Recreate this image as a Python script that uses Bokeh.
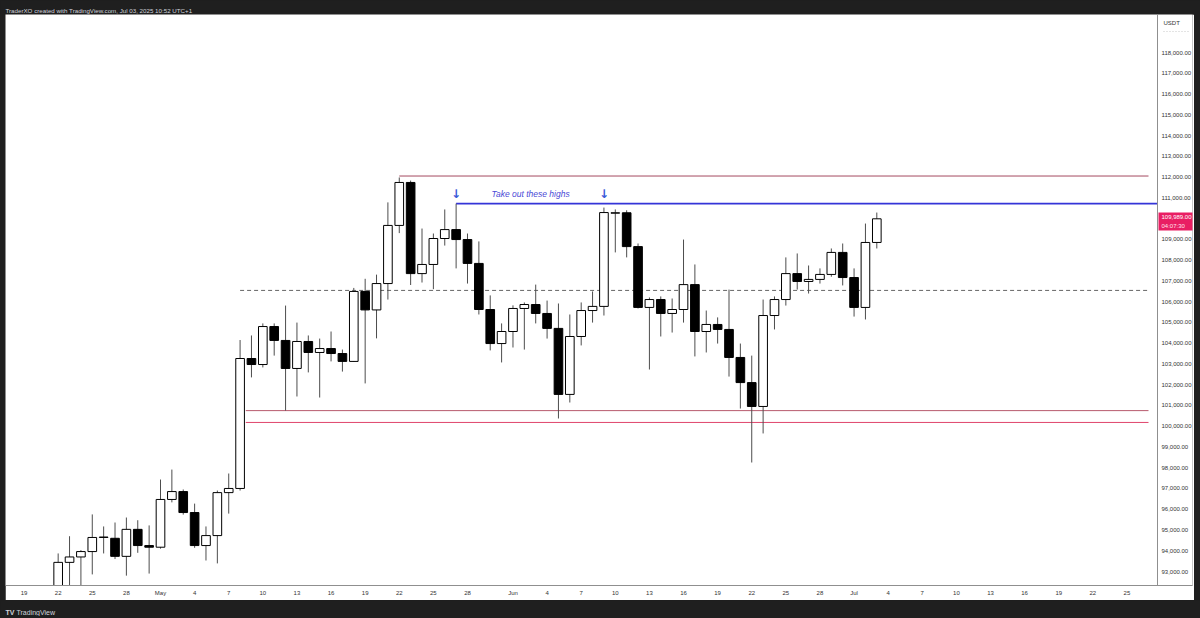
import pandas as pd
from bokeh.plotting import figure
from bokeh.layouts import column, row
from bokeh.models import (Range1d, FixedTicker, NumeralTickFormatter, Span,
                          ColumnDataSource, GlobalInlineStyleSheet, Spacer)
from bokeh.core.properties import value
from bokeh.embed import file_html
from bokeh.resources import INLINE

# ---------------- data ----------------
first_day = "2025-04-22"
last_day = "2025-07-03"
dates = pd.date_range(first_day, last_day, freq="D")

opens = [87520, 93440, 93700, 93960, 94640, 94600, 93730, 95030, 94250,
         94170, 96470, 96850, 95840, 94250, 94730, 96800, 97000, 103260, 102970, 104800,
         104130, 102780, 104080, 103550, 103740, 103500, 103120, 106490, 105600, 106870,
         109670, 111740, 107350, 107790, 109040, 109470, 108990, 107840, 105620, 103980,
         104560, 105670, 105860, 105430, 104710, 101530, 104320, 105570, 105770, 110260,
         110280, 108650, 105720, 106100, 105430, 105620, 106820, 104560, 104900, 104660,
         103310, 102100, 100950, 105330, 106100, 107350, 106970, 107070, 107310, 108370,
         107160, 105720, 108850]
highs = [93870, 94700, 94030, 95750, 95170, 95360, 95600, 95470, 95220,
         97430, 97910, 96950, 96270, 95170, 96900, 97720, 104150, 104370, 104950, 104950,
         105810, 104990, 104370, 104220, 104560, 103690, 106660, 107100, 107300, 110780,
         111980, 111830, 109520, 109280, 110440, 110720, 109280, 108900, 106300, 104950,
         105820, 105960, 106820, 106050, 105910, 105380, 105960, 106490, 110530, 110440,
         110400, 108800, 106200, 106250, 106150, 108990, 107790, 105570, 105240, 106580,
         103980, 103400, 106100, 106250, 108130, 108320, 107740, 107600, 108560, 108800,
         107600, 109760, 110290]
lows = [87070, 91900, 91660, 92860, 93870, 93600, 92800, 93900, 92900,
        94100, 96330, 95740, 94140, 93530, 93390, 95790, 96900, 102350, 102830, 103400,
        100750, 101430, 102590, 101380, 103120, 102630, 103100, 102060, 104230, 106100,
        109300, 106800, 106920, 106600, 108700, 107600, 106870, 105380, 103650, 103070,
        103790, 103690, 104950, 104220, 100370, 101140, 103890, 104990, 105330, 108370,
        108130, 105670, 102730, 104320, 104510, 104990, 103360, 103550, 103980, 102390,
        100850, 98250, 99650, 104660, 105810, 106580, 106390, 106870, 107200, 106780,
        105280, 105140, 108560]
closes = [93440, 93700, 93960, 94640, 94660, 93730, 95030, 94250, 94170,
          96470, 96850, 95840, 94250, 94730, 96800, 97000, 103260, 102970, 104800, 104130,
          102780, 104080, 103550, 103740, 103500, 103120, 106490, 105600, 106870, 109670,
          111740, 107350, 107790, 109040, 109470, 108990, 107840, 105620, 103980, 104560,
          105670, 105860, 105430, 104710, 101530, 104320, 105570, 105770, 110290, 110280,
          108650, 105720, 106100, 105430, 105620, 106820, 104560, 104900, 104660, 103310,
          102100, 100950, 105330, 106100, 107350, 106970, 107070, 107310, 108370, 107160,
          105720, 108850, 109989]

tick_dates = ["2025-04-19", "2025-04-22", "2025-04-25", "2025-04-28",
              "2025-05-01", "2025-05-04", "2025-05-07", "2025-05-10", "2025-05-13",
              "2025-05-16", "2025-05-19", "2025-05-22", "2025-05-25", "2025-05-28",
              "2025-06-01", "2025-06-04", "2025-06-07", "2025-06-10", "2025-06-13",
              "2025-06-16", "2025-06-19", "2025-06-22", "2025-06-25", "2025-06-28",
              "2025-07-01", "2025-07-04", "2025-07-07", "2025-07-10", "2025-07-13",
              "2025-07-16", "2025-07-19", "2025-07-22", "2025-07-25"]
tick_labels = ["19", "22", "25", "28",
               "May", "4", "7", "10", "13", "16", "19", "22", "25", "28",
               "Jun", "4", "7", "10", "13", "16", "19", "22", "25", "28",
               "Jul", "4", "7", "10", "13", "16", "19", "22", "25"]
# 110,000 is hidden behind the last-price tag in the original
price_ticks = [t for t in range(93000, 118001, 1000) if t != 110000]

# drawn levels: (start date, price)
ath_level = ("2025-05-22", 112050)
target_level = ("2025-05-27", 110720)
mid_level = ("2025-05-08", 106540)
support_upper = ("2025-05-08", 100750)
support_lower = ("2025-05-08", 100180)
arrow_dates = ["2025-05-27", "2025-06-09"]
note_text = "Take out these highs"
header_text = "TraderXO created with TradingView.com, Jul 03, 2025 10:52 UTC+1"
footer_text = "TradingView"
currency = "USDT"
countdown = "04:07:30"

# ---------------- helpers ----------------
ORIGIN = pd.Timestamp("2025-05-01")
def day(s):
    return int((pd.Timestamp(s) - ORIGIN).days)

PX0, PXD = 160.0, 11.37           # page x of May 1 / px per day
def px2d(px):
    return (px - PX0) / PXD
def py2p(py):
    return 118000 - (py - 52) * 1000 / 20.76

FONT = "Liberation Sans"
DARK = "#1f1f1f"
LIGHT = "#d1d4dc"
TAG = "#e91e63"

days = [int((d - ORIGIN).days) for d in dates]
tops = [max(o, c) for o, c in zip(opens, closes)]
bots = [min(o, c) for o, c in zip(opens, closes)]
fills = ["#ffffff" if c >= o else "#000000" for o, c in zip(opens, closes)]
src = ColumnDataSource(dict(x=days, high=highs, low=lows, top=tops, bottom=bots, fill=fills))

# ---------------- header strip ----------------
head = figure(width=1200, height=14, x_range=Range1d(0, 1200), y_range=Range1d(14, 0),
              x_axis_location=None, y_axis_location=None, title=None,
              min_border=0, output_backend="svg", toolbar_location=None)
head.background_fill_color = DARK
head.border_fill_color = DARK
head.outline_line_color = None
head.grid.visible = False
head.text(x=[5], y=[10], text=[header_text], text_font=value(FONT), text_font_size="6.2px",
          text_color=LIGHT, text_baseline="alphabetic", text_align="left")
head.stylesheets = [GlobalInlineStyleSheet(css="html, body { background-color: #1f1f1f; }")]

# ---------------- main chart (frame covers chart + price panel) ----------------
p = figure(width=1189, height=586,
           x_range=Range1d(px2d(5), px2d(1192)),
           y_range=Range1d(py2p(585), py2p(14)),
           y_axis_location="right", title=None,
           min_border_left=0, min_border_right=2,
           min_border_top=0, min_border_bottom=15,
           output_backend="svg", toolbar_location=None)
p.background_fill_color = "#ffffff"
p.border_fill_color = "#ffffff"
p.outline_line_color = None
p.grid.visible = False

right_end = px2d(1148)
p.segment(x0=[day(ath_level[0])], y0=[ath_level[1]], x1=[right_end], y1=[ath_level[1]],
          line_color="#a54a60", line_width=1)
p.segment(x0=[day(support_upper[0]) + 0.5], y0=[support_upper[1]], x1=[right_end], y1=[support_upper[1]],
          line_color="#b85a6e", line_width=1)
p.segment(x0=[day(support_lower[0]) + 0.5], y0=[support_lower[1]], x1=[right_end], y1=[support_lower[1]],
          line_color="#e0456c", line_width=1)
p.segment(x0=[day(mid_level[0])], y0=[mid_level[1]], x1=[right_end], y1=[mid_level[1]],
          line_color="#666666", line_width=1, line_dash="4 3")
p.segment(x0=[day(target_level[0])], y0=[target_level[1]], x1=[px2d(1157)], y1=[target_level[1]],
          line_color="#3535d8", line_width=1.6)

p.segment(x0="x", y0="low", x1="x", y1="high", source=src, line_color="#4d4d4d", line_width=1)
p.vbar(x="x", width=0.76, top="top", bottom="bottom", fill_color="fill",
       line_color="#000000", line_width=1, source=src)

arrow_x = [day(d) for d in arrow_dates]
arrow_y = [target_level[1] + 150, target_level[1] + 150]
p.text(x=arrow_x, y=arrow_y, text=["\u2193", "\u2193"], text_align="center",
       text_baseline="bottom", text_color="#3a5ad8", text_font_size="12px",
       text_font=value("DejaVu Sans"), text_font_style="bold")
p.text(x=[px2d(491)], y=[target_level[1] + 440], text=[note_text], text_align="left",
       text_baseline="middle", text_color="#4a4ad6", text_font_size="8.5px",
       text_font=value(FONT), text_font_style="italic")

# price-panel divider
p.add_layout(Span(location=px2d(1157), dimension="height", line_color="#8f8f8f", line_width=1))

# price panel contents
last = closes[-1]
p.quad(left=[px2d(1158)], right=[px2d(1194)], top=[last + 300], bottom=[last - 560],
       fill_color=TAG, line_color=None)
p.text(x=[px2d(1161)], y=[last + 90], text=[f"{last:,.2f}"], text_font=value(FONT),
       text_font_size="6px", text_color="#ffffff", text_baseline="middle")
p.text(x=[px2d(1161)], y=[last - 330], text=[countdown], text_font=value(FONT),
       text_font_size="6px", text_color="#ffe3ec", text_baseline="middle")
p.text(x=[px2d(1163)], y=[py2p(22)], text=[currency], text_font=value(FONT),
       text_font_size="6px", text_color="#333333", text_baseline="middle")
p.segment(x0=[px2d(1163)], y0=[py2p(31)], x1=[px2d(1190)], y1=[py2p(31)],
          line_color="#c8c8c8", line_width=1, line_dash="1 2")

xa = p.xaxis[0]
tick_days = [day(t) for t in tick_dates]
xa.ticker = FixedTicker(ticks=tick_days)
xa.major_label_overrides = {d: lab for d, lab in zip(tick_days, tick_labels)}
xa.major_tick_line_color = None
xa.major_tick_out = 0
xa.major_tick_in = 0
xa.minor_tick_line_color = None
xa.axis_line_color = "#8f8f8f"
xa.major_label_text_font_size = "6px"
xa.major_label_text_color = "#333333"
xa.major_label_text_font = FONT
xa.major_label_standoff = 4

ya = p.yaxis[0]
ya.ticker = FixedTicker(ticks=price_ticks)
ya.formatter = NumeralTickFormatter(format="0,0.00")
ya.major_tick_line_color = None
ya.major_tick_out = 0
ya.major_tick_in = 0
ya.minor_tick_line_color = None
ya.axis_line_color = None
ya.major_label_text_font_size = "6px"
ya.major_label_text_color = "#333333"
ya.major_label_text_font = FONT
ya.major_label_standoff = -31

# ---------------- footer strip ----------------
foot = figure(width=1200, height=16, x_range=Range1d(0, 1200), y_range=Range1d(16, 0),
              x_axis_location=None, y_axis_location=None, title=None,
              min_border=0, output_backend="svg", toolbar_location=None)
foot.background_fill_color = DARK
foot.border_fill_color = DARK
foot.outline_line_color = None
foot.grid.visible = False
foot.text(x=[5], y=[12], text=["TV"], text_font=value(FONT), text_font_style="bold",
          text_font_size="7px", text_color=LIGHT, text_baseline="alphabetic")
foot.text(x=[16], y=[12], text=[footer_text], text_font=value(FONT),
          text_font_size="7px", text_color=LIGHT, text_baseline="alphabetic")

layout = column(head, row(Spacer(width=5, height=586), p), foot, spacing=0)

open("out.html", "w").write(file_html(layout, INLINE))
